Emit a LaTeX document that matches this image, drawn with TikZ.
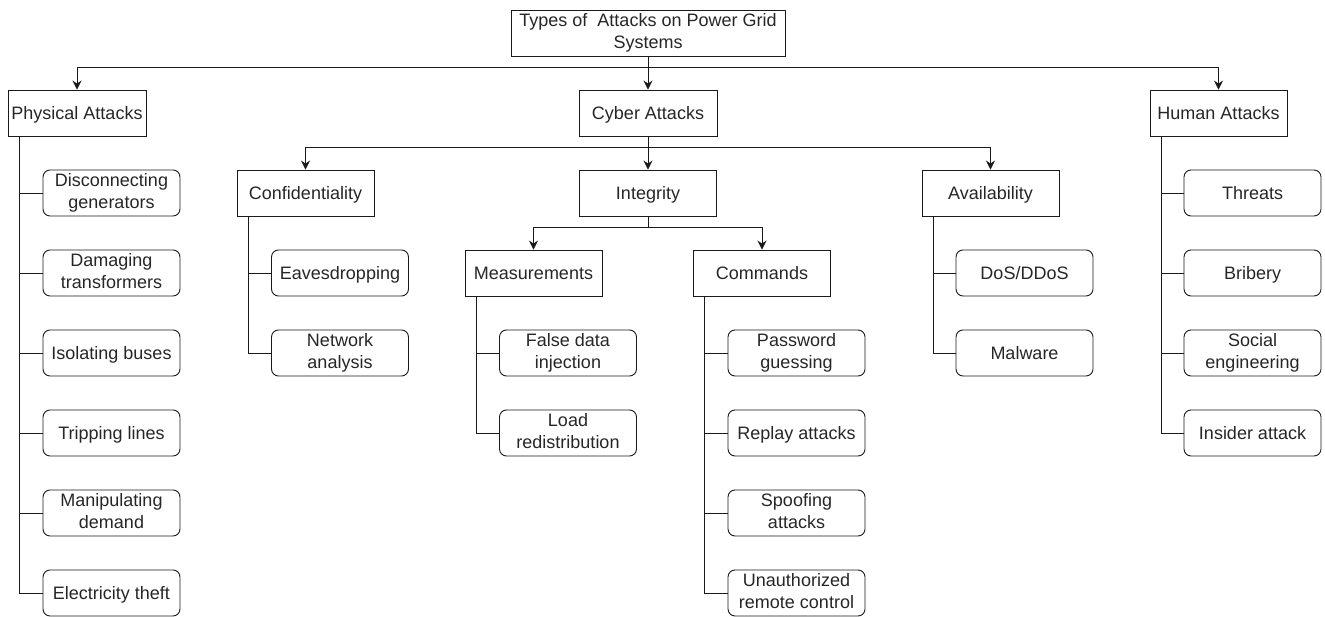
\documentclass[tikz,border=0pt]{standalone}
\usepackage{fontspec}
\setmainfont{Liberation Sans}
\usetikzlibrary{arrows.meta}
\definecolor{txt}{HTML}{262626}
\definecolor{edge}{HTML}{1a1a1a}
\newcommand\mystrut{\rule[-4.5pt]{0pt}{22pt}}
\begin{document}
\begin{tikzpicture}[x=1pt,y=-1pt,
  every node/.style={font=\fontsize{18}{22}\selectfont, text=txt, align=center, inner sep=0pt,
    execute at begin node=\mystrut, execute at end node=\mystrut},
  sqbox/.style={draw=edge, line width=0.9pt, minimum width=137pt, minimum height=46pt},
  rbox/.style={draw=edge, line width=0.9pt, rounded corners=7pt, minimum width=137pt, minimum height=46pt},
  conn/.style={draw=edge, line width=0.9pt},
  arr/.style={conn, -{Stealth[length=9pt,width=9pt,inset=3pt]}}]
\useasboundingbox (0,0) rectangle (1325,617);
% top
\node[sqbox, minimum width=274pt] (root) at (648,33) {Types of\ \ Attacks on Power Grid\\Systems};
\node[sqbox, minimum width=138pt] (phys) at (77,113) {Physical Attacks};
\node[sqbox, minimum width=138pt] (cyber) at (648,113) {Cyber Attacks};
\node[sqbox] (human) at (1218.5,113) {Human Attacks};
% cyber level
\node[sqbox] (conf) at (305.5,193) {Confidentiality};
\node[sqbox] (integ) at (648,193) {Integrity};
\node[sqbox] (avail) at (990.5,193) {Availability};
\node[sqbox] (meas) at (533.5,273) {Measurements};
\node[sqbox] (cmd) at (762,273) {Commands};
% physical leaves
\node[rbox] (p1) at (111.5,193) {Disconnecting\\generators};
\node[rbox] (p2) at (111.5,273) {Damaging\\transformers};
\node[rbox] (p3) at (111.5,353) {Isolating buses};
\node[rbox] (p4) at (111.5,433) {Tripping lines};
\node[rbox] (p5) at (111.5,513) {Manipulating\\demand};
\node[rbox] (p6) at (111.5,593) {Electricity theft};
% confidentiality leaves
\node[rbox] (c1) at (340,273) {Eavesdropping};
\node[rbox] (c2) at (340,353) {Network\\analysis};
% measurement leaves
\node[rbox] (m1) at (568,353) {False data\\injection};
\node[rbox] (m2) at (568,433) {Load\\redistribution};
% command leaves
\node[rbox] (k1) at (796.5,353) {Password\\guessing};
\node[rbox] (k2) at (796.5,433) {Replay attacks};
\node[rbox] (k3) at (796.5,513) {Spoofing\\attacks};
\node[rbox] (k4) at (796.5,593) {Unauthorized\\remote control};
% availability leaves
\node[rbox] (a1) at (1024.5,273) {DoS/DDoS};
\node[rbox] (a2) at (1024.5,353) {Malware};
% human leaves
\node[rbox] (h1) at (1252.5,193) {Threats};
\node[rbox] (h2) at (1252.5,273) {Bribery};
\node[rbox] (h3) at (1252.5,353) {Social\\engineering};
\node[rbox] (h4) at (1252.5,433) {Insider attack};
% bus coordinates
\coordinate (bus1) at (0,67);
\coordinate (bus2) at (0,147);
\coordinate (bus3) at (0,227);
% arrows level 1
\draw[arr] (root.south) -- (root.south |- bus1) -| (phys.north);
\draw[arr] (root.south) -- (cyber.north);
\draw[arr] (root.south) -- (root.south |- bus1) -| (human.north);
% arrows level 2
\draw[arr] (cyber.south) -- (cyber.south |- bus2) -| (conf.north);
\draw[arr] (cyber.south) -- (integ.north);
\draw[arr] (cyber.south) -- (cyber.south |- bus2) -| (avail.north);
% arrows level 3
\draw[arr] (integ.south) -- (integ.south |- bus3) -| (meas.north);
\draw[arr] (integ.south) -- (integ.south |- bus3) -| (cmd.north);
% trunks
\foreach \l in {p1,p2,p3,p4,p5,p6} \draw[conn] ([xshift=12pt]phys.south west) |- (\l.west);
\foreach \l in {c1,c2} \draw[conn] ([xshift=12pt]conf.south west) |- (\l.west);
\foreach \l in {m1,m2} \draw[conn] ([xshift=12pt]meas.south west) |- (\l.west);
\foreach \l in {k1,k2,k3,k4} \draw[conn] ([xshift=11.5pt]cmd.south west) |- (\l.west);
\foreach \l in {a1,a2} \draw[conn] ([xshift=11.5pt]avail.south west) |- (\l.west);
\foreach \l in {h1,h2,h3,h4} \draw[conn] ([xshift=12pt]human.south west) |- (\l.west);
\end{tikzpicture}
\end{document}
